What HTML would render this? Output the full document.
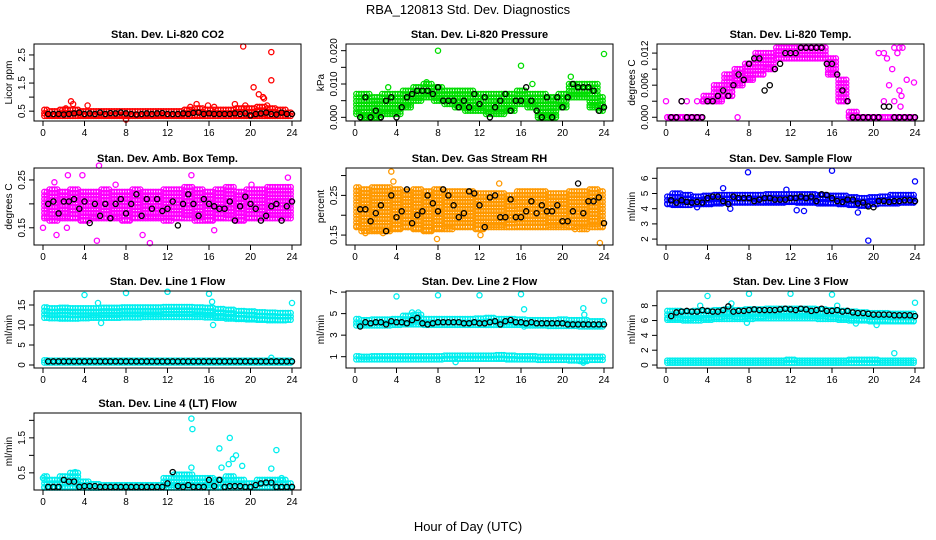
<!DOCTYPE html>
<html><head><meta charset="utf-8">
<style>
html,body{margin:0;padding:0;background:#fff;}
svg{display:block;font-family:"Liberation Sans",sans-serif;}
</style></head>
<body>
<svg id="chart" width="936" height="540" viewBox="0 0 936 540" xmlns="http://www.w3.org/2000/svg">
<rect x="0" y="0" width="936" height="540" fill="#fff"/>
<text x="468" y="14" font-size="13" text-anchor="middle">RBA_120813  Std. Dev. Diagnostics</text>
<text x="468" y="531" font-size="13" text-anchor="middle">Hour of Day (UTC)</text>
</svg>
<script>
// ---- data (bands are hourly x=0..24; black series every 0.5h from 0.5) ----
const p1Lo=[0.33,0.33,0.33,0.33,0.33,0.33,0.33,0.33,0.33,0.33,0.33,0.33,0.33,0.33,0.33,0.33,0.33,0.33,0.33,0.33,0.33,0.33,0.33,0.33,0.33];
const p1Hi=[0.55,0.5,0.55,0.55,0.5,0.5,0.5,0.5,0.5,0.5,0.5,0.5,0.5,0.5,0.55,0.6,0.55,0.55,0.55,0.6,0.6,0.65,0.6,0.55,0.45];
const p1Black=[0.4,0.4,0.4,0.38,0.4,0.42,0.45,0.4,0.42,0.4,0.45,0.4,0.43,0.42,0.45,0.42,0.4,0.38,0.4,0.42,0.4,0.42,0.43,0.4,0.4,0.4,0.42,0.4,0.44,0.45,0.4,0.42,0.4,0.4,0.4,0.4,0.42,0.4,0.42,0.35,0.4,0.42,0.45,0.4,0.38,0.45,0.4,0.4];
const p1OutX=[19.3,22,22,20.3,20.8,21.2,21.3,2.7,4.3,14.8,18.5,19.5,21.6,2.2,15.9,16.5,8,2.9,14.2];
const p1OutY=[2.8,2.6,1.6,1.35,1.1,1.0,0.95,0.85,0.7,0.75,0.75,0.7,0.7,0.6,0.7,0.65,0.2,0.75,0.65];

const p2Lo=[0.001,0,0,0.001,0.001,0.003,0.005,0.006,0.005,0.004,0.003,0.002,0.002,0.001,0.001,0.002,0.004,0.003,0,0,0.003,0.006,0.006,0.003,0.002];
const p2Hi=[0.007,0.007,0.006,0.007,0.007,0.008,0.009,0.010,0.009,0.008,0.008,0.008,0.007,0.007,0.007,0.007,0.008,0.007,0.007,0.006,0.007,0.010,0.010,0.010,0.006];
const p2Black=[0,0.006,0,0.002,0,0.005,0.006,0,0.003,0.006,0.007,0.008,0.008,0.008,0.007,0.009,0.005,0.005,0.005,0.003,0.005,0.003,0.007,0.004,0.006,0,0.003,0.005,0.007,0.002,0.005,0.005,0.009,0.005,0.002,0,0.006,0,0.006,0.003,0.006,0.010,0.009,0.009,0.009,0.008,0.002,0.003];
const p2OutX=[8,16,24,20.8,3.2,17.1,6.9];
const p2OutY=[0.020,0.0155,0.019,0.0122,0.009,0.010,0.0105];

const p3Lo=[0,0,0,0,0.003,0.003,0.004,0.006,0.007,0.008,0.009,0.011,0.011,0.011,0.011,0.011,0.008,0.003,0,0,0,0,0,0,0];
const p3Hi=[0,0,0,0,0.004,0.006,0.008,0.009,0.010,0.012,0.012,0.013,0.013,0.013,0.013,0.013,0.011,0.007,0.001,0,0,0,0,0,0];
const p3Black=[0,0,0.003,0,0,0,0,0.003,0.003,0.004,0.005,0.004,0.006,0.008,0.007,0.010,0.011,0.011,0.005,0.006,0.009,0.010,0.012,0.012,0.012,0.013,0.013,0.013,0.013,0.013,0.010,0.010,0.008,0.005,0.003,0,0,0,0,0,0,0.002,0.002,0,0,0,0,0];
const p3OutX=[0,1.5,2,3,3.5,21,21.3,21.5,21,21.8,22,22.3,22.5,22.5,22.6,22.7,22.8,23.2,23.9,22,20.5,6.9];
const p3OutY=[0.003,0.003,0.003,0.003,0.003,0.012,0.011,0.006,0.003,0.009,0.013,0.012,0.013,0.005,0.002,0.004,0.013,0.007,0.0065,0.003,0.012,0];

const p4Lo=[0.17,0.165,0.17,0.17,0.165,0.17,0.17,0.17,0.165,0.17,0.17,0.17,0.165,0.17,0.17,0.165,0.165,0.17,0.17,0.165,0.17,0.17,0.17,0.17,0.17];
const p4Hi=[0.225,0.23,0.225,0.23,0.225,0.225,0.23,0.225,0.225,0.23,0.225,0.225,0.23,0.23,0.235,0.23,0.225,0.23,0.235,0.225,0.23,0.23,0.235,0.235,0.235];
const p4Black=[0.20,0.205,0.18,0.205,0.205,0.21,0.19,0.205,0.16,0.20,0.175,0.20,0.17,0.20,0.21,0.18,0.20,0.22,0.175,0.21,0.19,0.21,0.185,0.19,0.205,0.155,0.20,0.22,0.20,0.175,0.21,0.20,0.195,0.19,0.19,0.205,0.165,0.195,0.215,0.20,0.19,0.165,0.175,0.195,0.20,0.165,0.195,0.205];
const p4OutX=[1.3,2.4,3.8,5.2,5.4,9.6,10.3,14.3,16.5,0,2.3,1.1,23.6,20.1,7.0];
const p4OutY=[0.135,0.26,0.26,0.123,0.28,0.135,0.118,0.26,0.145,0.15,0.15,0.245,0.255,0.24,0.24];

const p5Lo=[0.17,0.16,0.16,0.16,0.165,0.17,0.165,0.16,0.165,0.165,0.17,0.17,0.165,0.17,0.17,0.17,0.17,0.17,0.17,0.17,0.17,0.17,0.165,0.17,0.17];
const p5Hi=[0.27,0.265,0.27,0.27,0.265,0.26,0.265,0.26,0.265,0.26,0.26,0.26,0.255,0.255,0.255,0.25,0.26,0.26,0.26,0.255,0.255,0.26,0.26,0.265,0.26];
const p5Black=[0.215,0.215,0.185,0.205,0.225,0.16,0.25,0.195,0.21,0.265,0.18,0.20,0.21,0.25,0.23,0.21,0.265,0.25,0.225,0.195,0.205,0.26,0.255,0.225,0.17,0.245,0.25,0.195,0.195,0.24,0.195,0.195,0.21,0.235,0.205,0.225,0.21,0.21,0.225,0.185,0.185,0.21,0.28,0.205,0.235,0.235,0.245,0.18];
const p5OutX=[3.5,3.7,13.9,7.9,23.6,21.2,2.7,5.1,1.0,12.1];
const p5OutY=[0.31,0.285,0.28,0.14,0.13,0.165,0.155,0.17,0.155,0.15];

const p6Lo=[4.3,4.25,4.25,4.3,4.3,4.35,4.4,4.4,4.4,4.4,4.4,4.4,4.45,4.4,4.4,4.35,4.35,4.3,4.25,4.2,4.3,4.35,4.35,4.4,4.4];
const p6Hi=[4.8,5.0,4.9,4.8,4.85,4.9,4.9,4.9,4.9,4.9,4.95,4.95,4.95,4.95,4.95,4.9,4.85,4.85,4.75,4.7,4.75,4.8,4.9,4.9,4.9];
const p6Black=[4.55,4.4,4.55,4.45,4.4,4.45,4.4,4.7,4.8,4.8,4.5,4.3,4.8,4.7,4.7,4.7,4.5,4.6,4.7,4.7,4.6,4.6,4.6,4.7,4.7,4.8,4.7,4.8,4.5,4.95,4.9,4.7,4.5,4.45,4.6,4.6,4.35,4.4,4.15,4.1,4.5,4.5,4.45,4.5,4.5,4.55,4.55,4.5];
const p6OutX=[7.9,16,19.5,24,12.6,18.5,13.3,5.5,3,8.8,11.6,6.2];
const p6OutY=[6.4,6.5,1.9,5.8,3.9,3.75,3.85,5.35,4.1,4.5,5.25,4.0];

const p7aLo=[11.8,11.7,11.6,11.6,11.7,11.8,11.8,11.8,11.9,11.9,12.0,12.0,12.0,12.0,12.0,12.0,11.9,11.8,11.6,11.5,11.4,11.3,11.2,11.2,11.3];
const p7aHi=[14.4,14.2,14.3,14.2,14.2,14.2,14.3,14.3,14.4,14.4,14.4,14.4,14.5,14.5,14.5,14.4,14.3,14.0,13.8,13.5,13.4,13.2,13.1,13.0,13.0];
const p7bLo=[0.6,0.6,0.6,0.6,0.6,0.6,0.6,0.6,0.6,0.6,0.6,0.6,0.6,0.6,0.6,0.6,0.6,0.6,0.6,0.6,0.6,0.6,0.6,0.6,0.6];
const p7bHi=[1.2,1.1,1.1,1.1,1.1,1.1,1.1,1.1,1.1,1.1,1.1,1.1,1.1,1.1,1.1,1.1,1.1,1.1,1.1,1.1,1.1,1.1,1.1,1.1,1.1];
const p7Black=[0.9,0.9,0.9,0.9,0.9,0.9,0.9,0.9,0.9,0.9,0.9,0.9,0.9,0.9,0.9,0.9,0.9,0.9,0.9,0.9,0.9,0.9,0.9,0.9,0.9,0.9,0.9,0.9,0.9,0.9,0.9,0.9,0.9,0.9,0.9,0.9,0.9,0.9,0.9,0.9,0.9,0.9,0.9,0.9,0.9,0.9,0.9,0.9];
const p7OutX=[4,8,12,16,16.3,5.3,5.6,16.4,24,22];
const p7OutY=[17.5,18,18.3,17.8,15.8,15.5,10.5,10,15.5,1.8];

const p8aLo=[3.9,3.9,3.9,3.9,3.95,4.0,4.0,3.95,3.95,3.95,3.95,3.95,3.95,3.95,3.95,3.95,3.95,3.9,3.9,3.85,3.85,3.85,3.8,3.8,3.8];
const p8aHi=[4.5,4.4,4.45,4.45,4.5,4.8,4.9,4.5,4.5,4.5,4.5,4.5,4.55,4.6,4.5,4.5,4.45,4.4,4.4,4.4,4.45,4.4,4.4,4.3,4.3];
const p8bLo=[0.75,0.75,0.75,0.75,0.75,0.75,0.75,0.75,0.75,0.8,0.8,0.8,0.8,0.8,0.8,0.75,0.75,0.75,0.7,0.7,0.7,0.65,0.6,0.7,0.7];
const p8bHi=[1.05,1.0,1.05,1.05,1.05,1.05,1.05,1.05,1.05,1.1,1.1,1.1,1.1,1.1,1.15,1.1,1.05,1.05,1.0,1.0,1.0,1.0,1.0,1.0,1.0];
const p8Black=[3.8,4.2,4.1,4.2,4.2,4.0,4.3,4.2,4.2,4.1,4.4,4.6,4.1,4.0,4.1,4.2,4.2,4.2,4.2,4.2,4.1,4.1,4.2,4.1,4.1,4.2,4.3,4.0,4.3,4.4,4.2,4.2,4.1,4.2,4.1,4.1,4.1,4.1,4.1,4.1,4.0,4.0,4.0,4.0,4.0,4.0,4.0,4.0];
const p8OutX=[4,8,12,16,16.3,24,22,22.1,16.3,9.7,22,5.5,6.1];
const p8OutY=[6.6,6.7,6.7,6.8,5.4,6.2,5.5,4.9,3.8,0.5,0.45,5.1,5.1];

const p9aLo=[6.1,6.1,6.0,6.0,6.1,6.2,6.2,6.2,6.2,6.3,6.3,6.3,6.3,6.3,6.3,6.2,6.2,6.1,6.0,6.0,5.9,5.9,5.9,5.9,5.9];
const p9aHi=[7.3,7.3,7.2,7.3,7.3,7.4,7.5,7.4,7.5,7.5,7.6,7.6,7.6,7.6,7.6,7.5,7.4,7.3,7.2,7.1,7.0,7.0,6.9,6.9,6.9];
const p9bLo=[0.3,0.3,0.3,0.3,0.3,0.3,0.3,0.3,0.3,0.3,0.3,0.3,0.3,0.3,0.3,0.3,0.3,0.3,0.3,0.3,0.3,0.3,0.3,0.3,0.3];
const p9bHi=[0.6,0.6,0.6,0.6,0.6,0.6,0.6,0.6,0.6,0.6,0.6,0.6,0.7,0.6,0.6,0.6,0.6,0.6,0.7,0.7,0.7,0.6,0.6,0.6,0.6];
const p9Black=[6.6,7.1,7.2,7.3,7.2,7.2,7.4,7.3,7.2,7.2,7.4,7.9,7.2,7.3,7.3,7.4,7.5,7.4,7.4,7.4,7.4,7.5,7.6,7.5,7.4,7.6,7.5,7.3,7.4,7.6,7.3,7.3,7.4,7.2,7.3,7.1,7.0,7.0,6.9,6.8,6.8,6.8,6.8,6.7,6.7,6.7,6.7,6.6];
const p9OutX=[4,8,12,16,3.3,6.3,16.5,24,7.8,18.3,20.3,22];
const p9OutY=[9.3,9.6,9.6,9.5,8,8.3,8,8.4,5.7,5.6,5.4,1.6];

const p10Lo=[0.08,0.08,0.08,0.08,0.08,0.08,0.08,0.08,0.08,0.08,0.08,0.08,0.08,0.08,0.08,0.08,0.08,0.08,0.08,0.08,0.08,0.08,0.08,0.08,0.08];
const p10Hi=[0.4,0.3,0.4,0.5,0.25,0.18,0.15,0.15,0.15,0.15,0.15,0.15,0.35,0.45,0.45,0.35,0.35,0.3,0.4,0.3,0.2,0.3,0.3,0.3,0.2];
const p10Black=[0.1,0.1,0.1,0.3,0.25,0.25,0.1,0.12,0.12,0.12,0.1,0.1,0.1,0.1,0.1,0.1,0.1,0.1,0.1,0.1,0.1,0.1,0.1,0.2,0.52,0.12,0.1,0.15,0.1,0.1,0.1,0.3,0.12,0.3,0.1,0.12,0.12,0.12,0.1,0.1,0.15,0.2,0.22,0.22,0.1,0.1,0.1,0.1];
const p10OutX=[14.3,14.4,18,17,22.5,18.6,18.3,17.9,19.2,17.2,14.3,22,23,0,3.1];
const p10OutY=[2.05,1.75,1.5,1.2,1.15,1.0,0.9,0.75,0.7,0.65,0.65,0.62,0.35,0.35,0.52];

const panels=[
 {name:'co2',title:'Stan. Dev. Li-820 CO2',ylab:'Licor ppm',col:0,row:0,ymin:0.15,ymax:2.89,ticks:[0.5,1,1.5,2,2.5],labels:[[0.5,'0.5'],[1.5,'1.5'],[2.5,'2.5']],color:'#ff0000',bands:[[p1Lo,p1Hi]],black:p1Black,ox:p1OutX,oy:p1OutY},
 {name:'pressure',title:'Stan. Dev. Li-820 Pressure',ylab:'kPa',col:1,row:0,ymin:-0.0011,ymax:0.022,ticks:[0,0.005,0.01,0.015,0.02],labels:[[0,'0.000'],[0.01,'0.010'],[0.02,'0.020']],color:'#00dd00',bands:[[p2Lo,p2Hi]],black:p2Black,ox:p2OutX,oy:p2OutY},
 {name:'temp',title:'Stan. Dev. Li-820 Temp.',ylab:'degrees C',col:2,row:0,ymin:-0.0007,ymax:0.0137,ticks:[0,0.003,0.006,0.009,0.012],labels:[[0,'0.000'],[0.006,'0.006'],[0.012,'0.012']],color:'#ff00ff',bands:[[p3Lo,p3Hi]],black:p3Black,ox:p3OutX,oy:p3OutY},
 {name:'amb-box-temp',title:'Stan. Dev. Amb. Box Temp.',ylab:'degrees C',col:0,row:1,ymin:0.114,ymax:0.275,ticks:[0.15,0.2,0.25],labels:[[0.15,'0.15'],[0.25,'0.25']],color:'#ff00ff',bands:[[p4Lo,p4Hi]],black:p4Black,ox:p4OutX,oy:p4OutY},
 {name:'gas-stream-rh',title:'Stan. Dev. Gas Stream RH',ylab:'percent',col:1,row:1,ymin:0.125,ymax:0.319,ticks:[0.15,0.2,0.25,0.3],labels:[[0.15,'0.15'],[0.25,'0.25']],color:'#ff9900',bands:[[p5Lo,p5Hi]],black:p5Black,ox:p5OutX,oy:p5OutY},
 {name:'sample-flow',title:'Stan. Dev. Sample Flow',ylab:'ml/min',col:2,row:1,ymin:1.61,ymax:6.68,ticks:[2,3,4,5,6],labels:[[2,'2'],[3,'3'],[4,'4'],[5,'5'],[6,'6']],color:'#0000ff',bands:[[p6Lo,p6Hi]],black:p6Black,ox:p6OutX,oy:p6OutY},
 {name:'line1-flow',title:'Stan. Dev. Line 1 Flow',ylab:'ml/min',col:0,row:2,ymin:-0.75,ymax:18.5,ticks:[0,5,10,15],labels:[[0,'0'],[5,'5'],[10,'10'],[15,'15']],color:'#00eeee',bands:[[p7aLo,p7aHi],[p7bLo,p7bHi]],black:p7Black,ox:p7OutX,oy:p7OutY},
 {name:'line2-flow',title:'Stan. Dev. Line 2 Flow',ylab:'ml/min',col:1,row:2,ymin:-0.05,ymax:7.1,ticks:[1,3,5,7],labels:[[1,'1'],[3,'3'],[5,'5'],[7,'7']],color:'#00eeee',bands:[[p8aLo,p8aHi],[p8bLo,p8bHi]],black:p8Black,ox:p8OutX,oy:p8OutY},
 {name:'line3-flow',title:'Stan. Dev. Line 3 Flow',ylab:'ml/min',col:2,row:2,ymin:-0.4,ymax:9.98,ticks:[0,2,4,6,8],labels:[[0,'0'],[2,'2'],[4,'4'],[6,'6'],[8,'8']],color:'#00eeee',bands:[[p9aLo,p9aHi],[p9bLo,p9bHi]],black:p9Black,ox:p9OutX,oy:p9OutY},
 {name:'line4-flow',title:'Stan. Dev. Line 4 (LT) Flow',ylab:'ml/min',col:0,row:3,ymin:0.01,ymax:2.21,ticks:[0.5,1,1.5,2],labels:[[0.5,'0.5'],[1.5,'1.5']],color:'#00eeee',bands:[[p10Lo,p10Hi]],black:p10Black,ox:p10OutX,oy:p10OutY}
];
const xTicks=[0,4,8,12,16,20,24];
const colLeft=[34,346,657], rowTop=[44,168,291,413], W=267, H=77;
const NS='http://www.w3.org/2000/svg';
const svg=document.getElementById('chart');
function mk(tag,attrs,parent){const e=document.createElementNS(NS,tag);for(const k in attrs)e.setAttribute(k,attrs[k]);(parent||svg).appendChild(e);return e;}
function circ(g,cx,cy,color){const c=mk('circle',{cx:cx.toFixed(1),cy:cy.toFixed(1),r:2.6,fill:'none',stroke:color,'stroke-width':1.3},g);return c;}

panels.forEach(p=>{
  const L=colLeft[p.col], T=rowTop[p.row], B=T+H, R=L+W;
  const xs=v=>L+9+v*(W-18)/24;
  const ys=v=>B-(v-p.ymin)/(p.ymax-p.ymin)*H;
  const g=mk('g',{});
  
  
  const t=mk('text',{x:(L+R)/2,y:T-6,'font-size':11,'font-weight':'bold','text-anchor':'middle'},g);
  
  
  t.textContent=p.title;
  const bg=mk('g',{},g);
  
  
  p.bands.forEach(([lo,hi])=>{
    lo.forEach((lv,h)=>{
      const hv=hi[h];
      const y1=ys(hv), y0=ys(lv);
      [-0.375,-0.125,0.125,0.375].forEach(dx=>{
        const xv=h+dx; if(xv<0||xv>24)return;
        for(let yy=y1; yy<=y0+0.01; yy+=3.5){circ(bg,xs(xv),yy,p.color);}
        circ(bg,xs(xv),y0,p.color);
      });
    });
  });
  p.ox.forEach((xv,i)=>{circ(bg,xs(xv),ys(p.oy[i]),p.color);});
  const kg=mk('g',{},g);
  
  
  p.black.forEach((v,i)=>{circ(kg,xs(0.5+i*0.5),ys(v),'#000');});
  const box=mk('rect',{x:L,y:T,width:W,height:H,fill:'none',stroke:'#000','stroke-width':1},g);
  
  
  const xa=mk('g',{},g);
  
  
  xTicks.forEach(v=>{
    mk('line',{x1:xs(v),x2:xs(v),y1:B,y2:B+5,stroke:'#000'},xa);
    const tl=mk('text',{x:xs(v),y:B+15,'font-size':10,'text-anchor':'middle'},xa);
    
    
    tl.textContent=v;
  });
  const ya=mk('g',{},g);
  
  
  p.ticks.forEach(v=>{mk('line',{x1:L-5,x2:L,y1:ys(v),y2:ys(v),stroke:'#000'},ya);});
  p.labels.forEach(([v,s])=>{
    const tl=mk('text',{x:0,y:0,'font-size':10,'text-anchor':'middle',transform:`translate(${L-9},${ys(v)}) rotate(-90)`},ya);
    
    
    tl.textContent=s;
  });
  const yl=mk('text',{x:0,y:0,'font-size':10,'text-anchor':'middle',transform:`translate(${L-22},${(T+B)/2}) rotate(-90)`},g);
  
  
  yl.textContent=p.ylab;
});
</script>
</body></html>
